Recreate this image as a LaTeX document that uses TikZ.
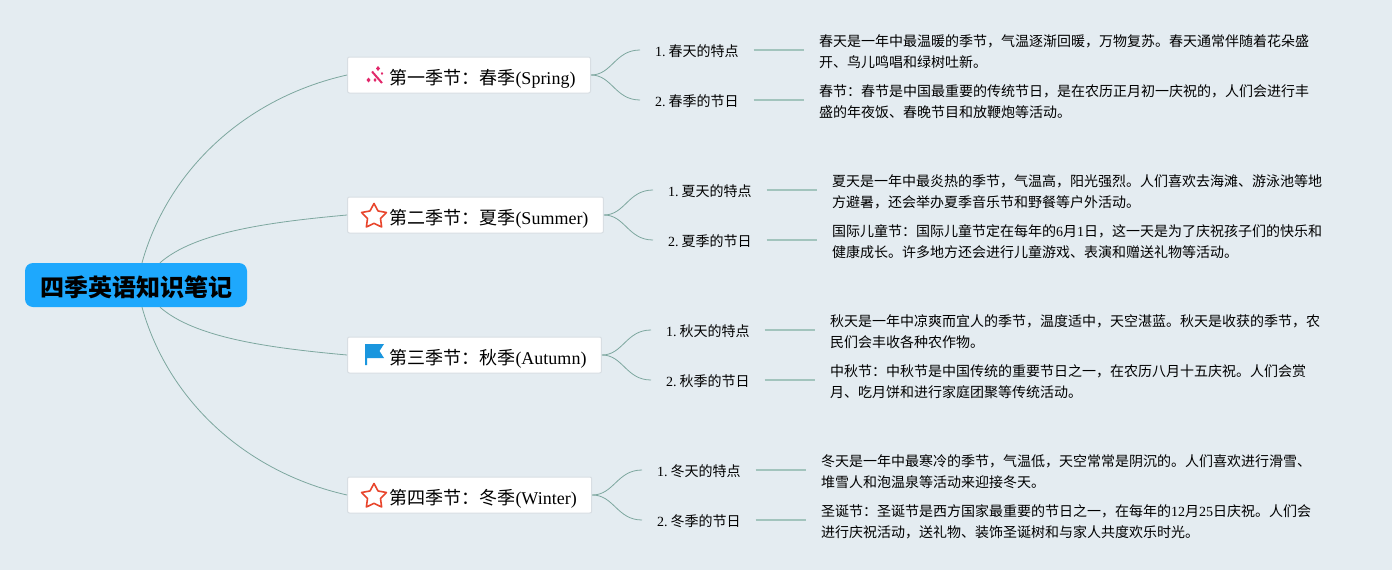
\documentclass[tikz,border=0pt]{standalone}
\usepackage{fontspec}
\setmainfont{Liberation Serif}
\newfontfamily\cjk{Noto Sans CJK SC}
\usetikzlibrary{shapes.geometric}
\definecolor{paper}{HTML}{E4ECF1}
\definecolor{rootblue}{HTML}{1EA8FD}
\definecolor{branchline}{HTML}{7DA79F}
\definecolor{leafline}{HTML}{A2C4BD}
\definecolor{boxline}{HTML}{D8DEE3}
\definecolor{wandred}{HTML}{E2286B}
\definecolor{starred}{HTML}{E8452C}
\definecolor{flagblue}{HTML}{1A96DE}
\begin{document}
\begin{tikzpicture}[x=1pt, y=-1pt,
  root/.style={fill=rootblue, rounded corners=8pt, minimum width=222pt, minimum height=44pt, inner sep=0pt, text height=25pt, text depth=3pt, font=\fontsize{24}{28}\selectfont\cjk\bfseries},
  season/.style={draw=boxline, line width=1pt, fill=white, rounded corners=2pt, anchor=west, minimum height=36pt, inner xsep=15pt, inner ysep=0pt, text height=22.5pt, text depth=4pt, font=\fontsize{18}{22}\selectfont, execute at begin node=\hspace*{27pt}},
  topic/.style={anchor=west, inner xsep=15pt, inner ysep=0pt, text height=16.3pt, text depth=3.5pt, font=\fontsize{14}{18}\selectfont},
  detail/.style={anchor=west, align=left, inner xsep=15pt, inner ysep=0pt, font=\fontsize{14}{21}\selectfont\cjk},
  trunk/.style={draw=branchline, line width=0.8pt},
  twig/.style={draw=branchline, line width=0.8pt},
  leaf/.style={draw=leafline, line width=1.4pt},
  staricon/.style={star, star points=5, star point ratio=1.9, draw=starred, fill=white, line width=1.6pt, line join=round, inner sep=0pt, minimum size=26pt}]
  \useasboundingbox[fill=paper] (0,0) rectangle (1392,570);
  \node[root] (root) at (136,285) {四季英语知识笔记};

  \node[season] (spring) at (347,75) {{\cjk 第一季节：春季}(Spring)};
  \node[season] (summer) at (347,215) {{\cjk 第二季节：夏季}(Summer)};
  \node[season] (autumn) at (347,355) {{\cjk 第三季节：秋季}(Autumn)};
  \node[season] (winter) at (347,495) {{\cjk 第四季节：冬季}(Winter)};

  \node[topic] (spring1) at (640,50) {1.\kern-0.7pt\ {\cjk 春天的特点}};
  \node[topic] (spring2) at (640,100) {2.\kern-0.7pt\ {\cjk 春季的节日}};
  \node[topic] (summer1) at (653,190) {1.\kern-0.7pt\ {\cjk 夏天的特点}};
  \node[topic] (summer2) at (653,240) {2.\kern-0.7pt\ {\cjk 夏季的节日}};
  \node[topic] (autumn1) at (651,330) {1.\kern-0.7pt\ {\cjk 秋天的特点}};
  \node[topic] (autumn2) at (651,380) {2.\kern-0.7pt\ {\cjk 秋季的节日}};
  \node[topic] (winter1) at (642,470) {1.\kern-0.7pt\ {\cjk 冬天的特点}};
  \node[topic] (winter2) at (642,520) {2.\kern-0.7pt\ {\cjk 冬季的节日}};

  \node[detail] (springa) at (804,52) {春天是一年中最温暖的季节，气温逐渐回暖，万物复苏。春天通常伴随着花朵盛\\开、鸟儿鸣唱和绿树吐新。};
  \node[detail] (springb) at (804,102) {春节：春节是中国最重要的传统节日，是在农历正月初一庆祝的，人们会进行丰\\盛的年夜饭、春晚节目和放鞭炮等活动。};
  \node[detail] (summera) at (817,192) {夏天是一年中最炎热的季节，气温高，阳光强烈。人们喜欢去海滩、游泳池等地\\方避暑，还会举办夏季音乐节和野餐等户外活动。};
  \node[detail] (summerb) at (817,242) {国际儿童节：国际儿童节定在每年的{\rmfamily 6}月{\rmfamily 1}日，这一天是为了庆祝孩子们的快乐和\\健康成长。许多地方还会进行儿童游戏、表演和赠送礼物等活动。};
  \node[detail] (autumna) at (815,332) {秋天是一年中凉爽而宜人的季节，温度适中，天空湛蓝。秋天是收获的季节，农\\民们会丰收各种农作物。};
  \node[detail] (autumnb) at (815,382) {中秋节：中秋节是中国传统的重要节日之一，在农历八月十五庆祝。人们会赏\\月、吃月饼和进行家庭团聚等传统活动。};
  \node[detail] (wintera) at (806,472) {冬天是一年中最寒冷的季节，气温低，天空常常是阴沉的。人们喜欢进行滑雪、\\堆雪人和泡温泉等活动来迎接冬天。};
  \node[detail] (winterb) at (806,522) {圣诞节：圣诞节是西方国家最重要的节日之一，在每年的{\rmfamily 12}月{\rmfamily 25}日庆祝。人们会\\进行庆祝活动，送礼物、装饰圣诞树和与家人共度欢乐时光。};

  \draw[trunk] ([xshift=6pt]root.north) .. controls (168,170) and (245,98) .. (spring.west);
  \draw[trunk] ([xshift=24pt]root.north) .. controls (195,232) and (270,222) .. (summer.west);
  \draw[trunk] ([xshift=24pt]root.south) .. controls (195,338) and (270,348) .. (autumn.west);
  \draw[trunk] ([xshift=6pt]root.south) .. controls (168,400) and (245,472) .. (winter.west);

  \draw[twig] (spring.east) .. controls (612,75) and (615,50) .. (spring1.west);
  \draw[twig] (spring.east) .. controls (612,75) and (615,100) .. (spring2.west);
  \draw[twig] (summer.east) .. controls (625,215) and (628,190) .. (summer1.west);
  \draw[twig] (summer.east) .. controls (625,215) and (628,240) .. (summer2.west);
  \draw[twig] (autumn.east) .. controls (623,355) and (626,330) .. (autumn1.west);
  \draw[twig] (autumn.east) .. controls (623,355) and (626,380) .. (autumn2.west);
  \draw[twig] (winter.east) .. controls (614,495) and (617,470) .. (winter1.west);
  \draw[twig] (winter.east) .. controls (614,495) and (617,520) .. (winter2.west);

  \draw[leaf] (spring1.east) -- (springa.west |- spring1.east);
  \draw[leaf] (spring2.east) -- (springb.west |- spring2.east);
  \draw[leaf] (summer1.east) -- (summera.west |- summer1.east);
  \draw[leaf] (summer2.east) -- (summerb.west |- summer2.east);
  \draw[leaf] (autumn1.east) -- (autumna.west |- autumn1.east);
  \draw[leaf] (autumn2.east) -- (autumnb.west |- autumn2.east);
  \draw[leaf] (winter1.east) -- (wintera.west |- winter1.east);
  \draw[leaf] (winter2.east) -- (winterb.west |- winter2.east);

  \draw[wandred, line width=2pt] (372,71.5) -- (382,83);
  \fill[wandred] (368.5,77.5) -- (370.5,80) -- (368.5,82.5) -- (366.5,80) -- cycle;
  \fill[wandred] (375,78) -- (376.5,80) -- (375,82) -- (373.5,80) -- cycle;
  \fill[wandred] (378,66) -- (380,68.5) -- (378,71) -- (376,68.5) -- cycle;
  \fill[wandred] (382,72) -- (383.2,73.5) -- (382,75) -- (380.8,73.5) -- cycle;
  \node[staricon] (summerstar) at (374,216.5) {};
  \node[staricon] (winterstar) at (374,496.5) {};
  \fill[flagblue] (365,344) -- (384,344) -- (379.5,351) -- (384,358) -- (367,358) -- (367,365) -- (365,365) -- cycle;
\end{tikzpicture}
\end{document}
